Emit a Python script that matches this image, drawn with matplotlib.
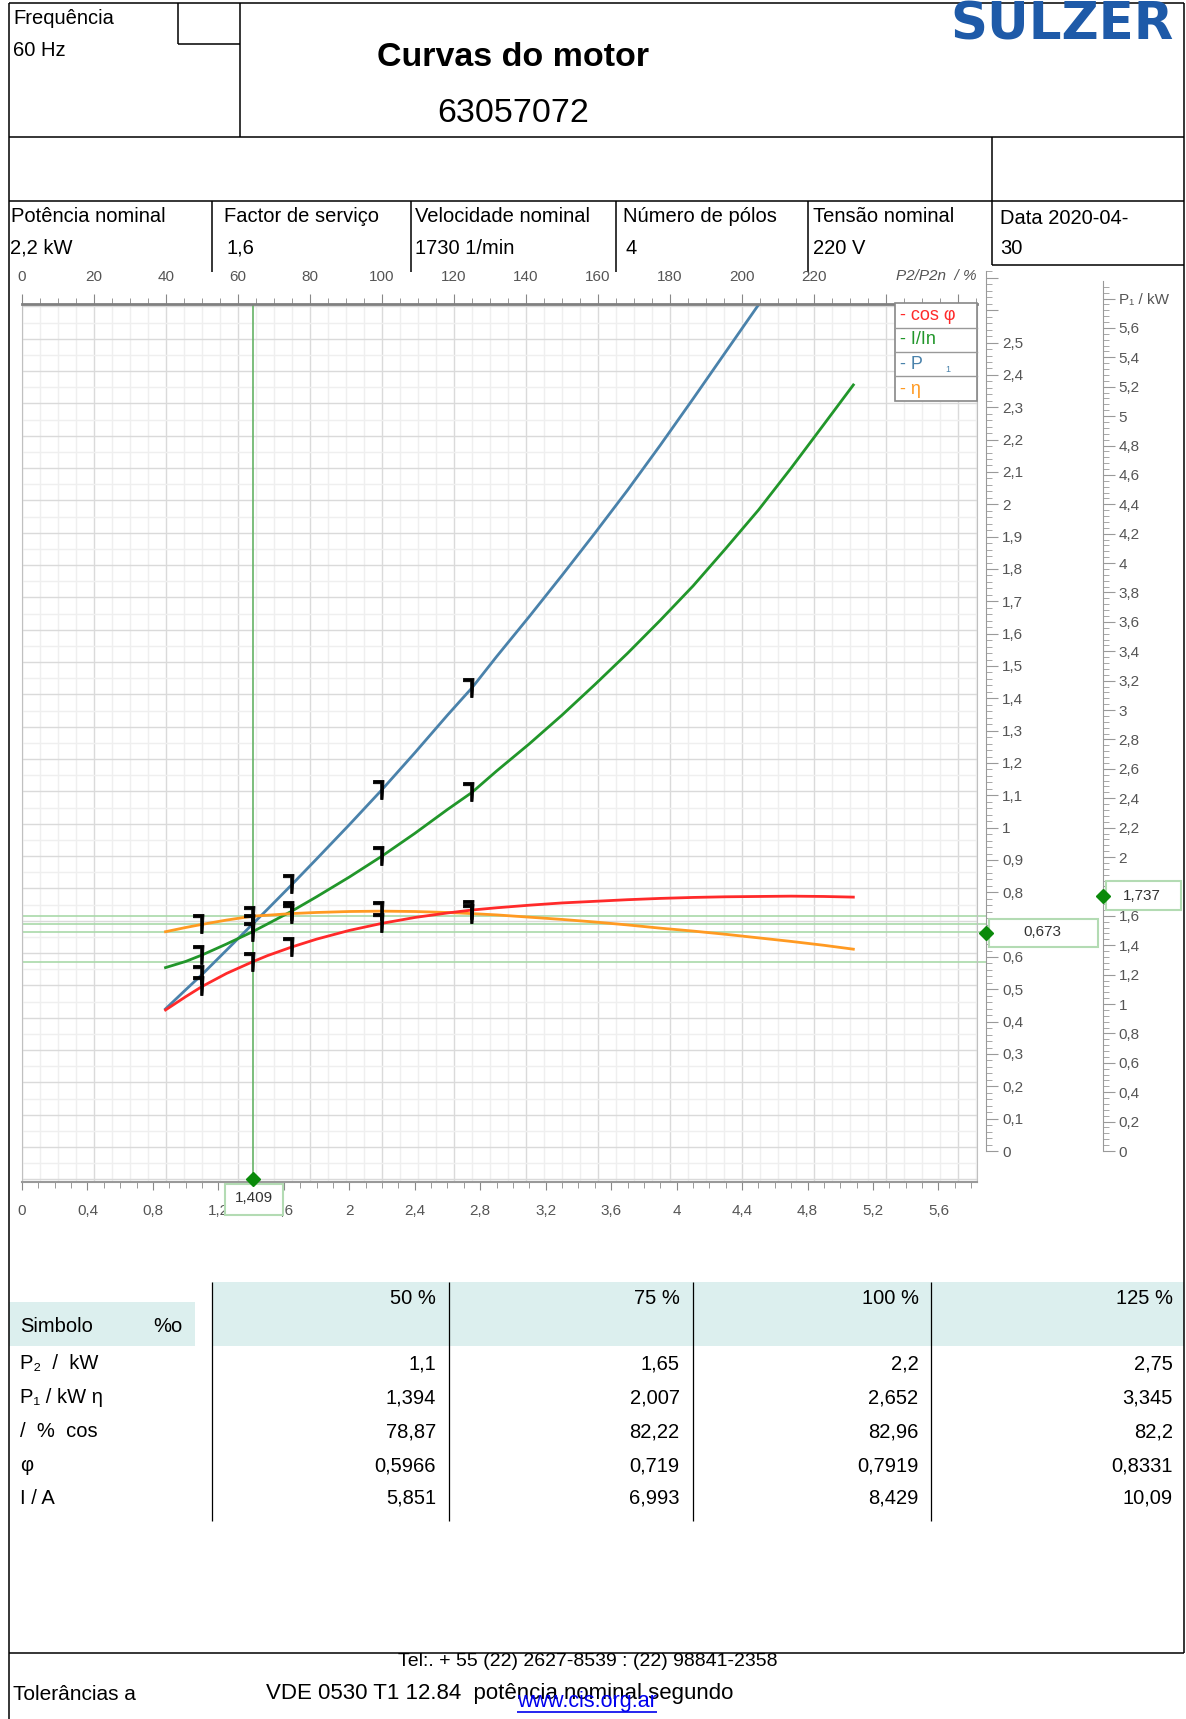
import matplotlib
matplotlib.use("Agg")
import matplotlib.pyplot as plt
import numpy as np
from matplotlib.path import Path
from matplotlib.patches import Rectangle
from matplotlib.ticker import MultipleLocator, FuncFormatter

plt.rcParams['font.family'] = ['Liberation Sans', 'DejaVu Sans']

W, H = 1186, 1719
P2N = 2.2   # rated power, kW
PT2PX = 100 / 72.0

# ---- header data
info_labels = ["Potência nominal", "Factor de serviço", "Velocidade nominal",
               "Número de pólos", "Tensão nominal"]
info_values = ["2,2 kW", "1,6", "1730 1/min", "4", "220 V"]

# ---- table data
load_cols = ["50 %", "75 %", "100 %", "125 %"]
row_names = ["P₂  /  kW", "P₁ / kW η", "/  %  cos", "φ", "I / A"]
tab_p2 = [1.1, 1.65, 2.2, 2.75]
tab_p1 = [1.394, 2.007, 2.652, 3.345]
tab_eta = [78.87, 82.22, 82.96, 82.2]
tab_cos = [0.5966, 0.719, 0.7919, 0.8331]
tab_i = [5.851, 6.993, 8.429, 10.09]

# ---- curves, x = P2 / kW
p1_x = [0.877, 1.0, 1.1, 1.25, 1.409, 1.5, 1.65, 1.8, 2.0, 2.2, 2.4, 2.6, 2.75,
        2.9, 3.1, 3.3, 3.5, 3.7, 3.9, 4.1, 4.3, 4.55]
p1_y = [1.16, 1.29, 1.394, 1.560, 1.737, 1.838, 2.007, 2.180, 2.413, 2.652, 2.902,
        3.159, 3.345, 3.557, 3.83, 4.11, 4.396, 4.689, 4.995, 5.31, 5.63, 6.03]

iin_x = [0.877, 1.0, 1.1, 1.25, 1.409, 1.5, 1.65, 1.8, 2.0, 2.2, 2.4, 2.6, 2.75,
         2.9, 3.1, 3.3, 3.5, 3.7, 3.9, 4.1, 4.3, 4.5, 4.7, 4.9, 5.08]
iin_y = [0.655, 0.674, 0.694, 0.728, 0.766, 0.790, 0.830, 0.874, 0.935, 1.0, 1.070,
         1.144, 1.197, 1.263, 1.347, 1.436, 1.530, 1.627, 1.729, 1.835, 1.951, 2.07,
         2.20, 2.335, 2.457]

cos_x = [0.877, 1.0, 1.1, 1.25, 1.409, 1.5, 1.65, 1.8, 2.0, 2.2, 2.4, 2.6, 2.75,
         2.9, 3.1, 3.3, 3.5, 3.7, 3.9, 4.1, 4.3, 4.5, 4.7, 4.9, 5.08]
cos_y = [0.524, 0.565, 0.5966, 0.637, 0.673, 0.692, 0.719, 0.743, 0.770, 0.7919,
         0.810, 0.824, 0.8331, 0.840, 0.848, 0.855, 0.860, 0.865, 0.869, 0.872,
         0.874, 0.875, 0.876, 0.875, 0.873]

eta_x = [0.877, 1.0, 1.1, 1.25, 1.409, 1.5, 1.65, 1.8, 2.0, 2.2, 2.4, 2.6, 2.75,
         2.9, 3.1, 3.3, 3.5, 3.7, 3.9, 4.1, 4.3, 4.5, 4.7, 4.9, 5.08]
eta_y = [76.6, 77.9, 78.87, 80.2, 81.4, 81.7, 82.22, 82.55, 82.85, 82.96, 82.85,
         82.55, 82.2, 81.8, 81.1, 80.4, 79.6, 78.7, 77.7, 76.8, 75.8, 74.7, 73.6,
         72.4, 71.2]

mark_x = [1.1, 1.409, 1.65, 2.2, 2.75]
op_p2 = 1.409
op_axis1 = 0.673
op_axis2 = 1.737

C_BLUE, C_GREEN, C_RED, C_ORANGE = "#4a82ab", "#21962a", "#ff2a2a", "#ff9a22"
GRAY_TXT = "#555555"

fig = plt.figure(figsize=(W / 100, H / 100), dpi=100)

bg = fig.add_axes([0, 0, 1, 1], zorder=0)
bg.set_xlim(0, W)
bg.set_ylim(H, 0)
bg.axis('off')


def hline(a, y, x0, x1, color='black', lw=1.1):
    a.plot([x0, x1], [y, y], color=color, lw=lw, solid_capstyle='butt')


def vline(a, x, y0, y1, color='black', lw=1.1):
    a.plot([x, x], [y0, y1], color=color, lw=lw, solid_capstyle='butt')


# ---- frame / header
hline(bg, 3.5, 9, 1184)
vline(bg, 9, 3.5, H)
vline(bg, 1184, 3.5, 1653)
hline(bg, 137, 9, 1184)
hline(bg, 200.6, 9, 1184)
vline(bg, 177.6, 3.5, 44)
hline(bg, 44, 177.6, 240)
vline(bg, 240, 3.5, 137)
vline(bg, 992, 137, 265)
hline(bg, 265, 992, 1184)
for x in [211.5, 411, 616, 808]:
    vline(bg, x, 200.6, 272)
hline(bg, 1653, 9, 1184)

bg.text(13, 19, "Frequência", fontsize=14.5, va='center')
bg.text(13, 50, "60 Hz", fontsize=14.5, va='center')
bg.text(513, 57, "Curvas do motor", fontsize=24.5, fontweight='bold', ha='center', va='center')
bg.text(513, 113, "63057072", fontsize=24.5, ha='center', va='center')
bg.text(1174, 39, "SULZER", fontsize=37, fontweight='heavy', family='DejaVu Sans',
        color="#1e5aa8", ha='right', va='baseline')

info_x = [11, 223.6, 415.4, 622.6, 813]
val_x = [10, 226, 415.4, 625, 813]
for lab, val, xl, xv in zip(info_labels, info_values, info_x, val_x):
    bg.text(xl, 216, lab, fontsize=14.5, va='center')
    bg.text(xv, 248, val, fontsize=14.5, va='center')
bg.text(1000, 218, "Data 2020-04-", fontsize=14.5, va='center')
bg.text(1000, 248, "30", fontsize=14.5, va='center')

# ---- main plot
PL, PR, PT, PB = 22, 977, 304, 1182
Y0, PX_UNIT, PX_KW = 1179.4, 323.35, 163.65
xmax = (PR - PL) / PX_KW
ax = fig.add_axes([PL / W, 1 - PB / H, (PR - PL) / W, (PB - PT) / H], zorder=1)
ax.set_xlim(0, xmax)
ax.set_ylim(-(PB - Y0) / PX_UNIT, (Y0 - PT) / PX_UNIT)

for pct in np.arange(0, 266, 5):
    major = pct % 20 == 0
    ax.axvline(pct * P2N / 100, color="#dadada" if major else "#efefef",
               lw=1.0, zorder=0)
for k, v in enumerate(np.arange(0, 2.71, 0.05)):
    ax.axhline(v, color="#dadada" if k % 2 == 0 else "#efefef", lw=1.0, zorder=0)

ax.set_yticks([])
for s in ['left', 'right']:
    ax.spines[s].set_color("#c0c0c0")
ax.spines['bottom'].set_color("#999999")
ax.spines['bottom'].set_linewidth(1.5)
ax.spines['top'].set_visible(False)

comma = FuncFormatter(lambda v, p: f"{round(v, 3):g}".replace('.', ','))
ax.xaxis.set_major_locator(MultipleLocator(0.4))
ax.xaxis.set_minor_locator(MultipleLocator(0.1))
ax.xaxis.set_major_formatter(comma)
ax.tick_params(axis='x', which='major', direction='out', length=8 / PT2PX, color="#888888",
               labelsize=11, labelcolor=GRAY_TXT, pad=14 / PT2PX)
ax.tick_params(axis='x', which='minor', direction='out', length=6 / PT2PX, color="#888888")

# top axis in % of rated power
ax_top = ax.twiny()
ax_top.set_xlim(0, xmax / P2N * 100)
ax_top.set_yticks([])
ax_top.xaxis.set_major_locator(MultipleLocator(20))
ax_top.xaxis.set_minor_locator(MultipleLocator(5))
ax_top.xaxis.set_major_formatter(FuncFormatter(lambda v, p: f"{v:g}" if v <= 220 else ""))
ax_top.tick_params(axis='x', which='major', direction='out', length=10 / PT2PX,
                   color="#888888", labelsize=11, labelcolor=GRAY_TXT, pad=10 / PT2PX)
ax_top.tick_params(axis='x', which='minor', direction='out', length=6 / PT2PX,
                   color="#888888")
for s in ['left', 'right', 'bottom']:
    ax_top.spines[s].set_visible(False)
ax_top.spines['top'].set_color("#808080")
ax_top.spines['top'].set_linewidth(2)
bg.text(976, 276, "P2/P2n  / %", fontsize=11, style='italic', color=GRAY_TXT,
        ha='right', va='center')

# curves
lw = 2.0
ax.plot(p1_x, np.array(p1_y) / P2N, color=C_BLUE, lw=lw, zorder=3)
ax.plot(iin_x, iin_y, color=C_GREEN, lw=lw, zorder=3)
ax.plot(eta_x, np.array(eta_y) / 100, color=C_ORANGE, lw=lw, zorder=3)
ax.plot(cos_x, cos_y, color=C_RED, lw=lw, zorder=3)

# operating point guides
ref_vals = [eta_y[eta_x.index(op_p2)] / 100, p1_y[p1_x.index(op_p2)] / P2N,
            iin_y[iin_x.index(op_p2)], cos_y[cos_x.index(op_p2)]]
ax.hlines(ref_vals, 0, (986 - PL) / PX_KW, colors="#a9d9a9", lw=1.2,
          clip_on=False, zorder=2)
ax.axvline(op_p2, color="#66b366", lw=1.2, zorder=2)

# point markers (thick "7"-shaped glyph)
corner = Path([(-9, 10), (1.5, 10), (0.5, -9), (-1.8, -9), (-1.8, 6.8), (-9, 6.8), (-9, 10)],
              [Path.MOVETO] + [Path.LINETO] * 5 + [Path.CLOSEPOLY])
for xs, ys, scale in [(p1_x, p1_y, P2N), (iin_x, iin_y, 1), (eta_x, eta_y, 100),
                      (cos_x, cos_y, 1)]:
    my = [ys[xs.index(m)] / scale for m in mark_x]
    ax.plot(mark_x, my, ls='none', marker=corner, ms=20 / PT2PX, mew=0.6,
            mfc='black', mec='black', zorder=4)

# ---- right-hand axes
A0 = 1151
ax_r1 = fig.add_axes([986 / W, 1 - A0 / H, 0.05, (A0 - 271) / H], zorder=2)
ax_r1.set_ylim(0, (A0 - 271) / PX_UNIT)
ax_r2 = fig.add_axes([1102.7 / W, 1 - A0 / H, 0.05, (A0 - 281) / H], zorder=2)
ax_r2.set_ylim(0, (A0 - 281) / (PX_UNIT / P2N))

for a in [ax_r1, ax_r2]:
    a.patch.set_visible(False)
    a.xaxis.set_visible(False)
    for s in ['top', 'bottom', 'left']:
        a.spines[s].set_visible(False)
    a.spines['right'].set_position(('axes', 0))
    a.spines['right'].set_color("#999999")
    a.yaxis.tick_right()
    a.tick_params(axis='y', which='major', direction='out', length=12 / PT2PX,
                  color="#999999", labelsize=11, labelcolor=GRAY_TXT, pad=4 / PT2PX)
    a.tick_params(axis='y', which='minor', direction='out', length=6 / PT2PX,
                  color="#999999")

ax_r1.yaxis.set_major_locator(MultipleLocator(0.1))
ax_r1.yaxis.set_minor_locator(MultipleLocator(0.02))
ax_r1.yaxis.set_major_formatter(FuncFormatter(
    lambda v, p: f"{round(v, 2):g}".replace('.', ',') if v < 2.55 else ""))
ax_r2.yaxis.set_major_locator(MultipleLocator(0.2))
ax_r2.yaxis.set_minor_locator(MultipleLocator(0.04))
ax_r2.yaxis.set_major_formatter(FuncFormatter(
    lambda v, p: "P₁ / kW" if abs(v - 5.8) < 1e-6 else f"{round(v, 2):g}".replace('.', ',')))

# ---- foreground: legend, value boxes
fg = fig.add_axes([0, 0, 1, 1], zorder=5)
fg.set_xlim(0, W)
fg.set_ylim(H, 0)
fg.axis('off')
fg.patch.set_visible(False)


def to_fg(a, x, y):
    return fg.transData.inverted().transform(a.transData.transform((x, y)))


box_edge = "#b3dbb3"
dx, dy = to_fg(ax, op_p2, 0)
fg.add_patch(Rectangle((dx - 28, 1184), 58, 31, fc='white', ec=box_edge, lw=1.5, zorder=2))
fg.text(dx + 1, 1198, f"{op_p2:g}".replace('.', ','), fontsize=11, color="#333333",
        ha='center', va='center', zorder=3)
fg.plot(dx, dy, marker='D', ms=7.5, color="#0a8a0a", zorder=4)

ax1x, ax1y = to_fg(ax_r1, 0, op_axis1)
fg.add_patch(Rectangle((ax1x + 3, ax1y - 14), 1098 - ax1x - 3, 28, fc='white',
                       ec=box_edge, lw=1.5, zorder=2))
fg.text((ax1x + 1098) / 2, ax1y - 1, f"{op_axis1:g}".replace('.', ','), fontsize=11,
        color="#333333", ha='center', va='center', zorder=3)
fg.plot(ax1x, ax1y, marker='D', ms=7.5, color="#0a8a0a", zorder=4)

ax2x, ax2y = to_fg(ax_r2, 0, op_axis2)
fg.add_patch(Rectangle((ax2x + 3, ax2y - 14.5), 1181 - ax2x - 3, 29, fc='white',
                       ec=box_edge, lw=1.5, zorder=2))
fg.text((ax2x + 1181) / 2, ax2y, f"{op_axis2:g}".replace('.', ','), fontsize=11,
        color="#333333", ha='center', va='center', zorder=3)
fg.plot(ax2x, ax2y, marker='D', ms=7.5, color="#0a8a0a", zorder=4)

# legend
fg.add_patch(Rectangle((895, 303), 82, 98, fc='white', ec="#888888", lw=1.2, zorder=2))
for y in [328, 352.5, 376.5]:
    fg.plot([895, 977], [y, y], color="#999999", lw=1.0, zorder=3)
leg = [("- cos φ", C_RED), ("- I/In", C_GREEN), ("- P", C_BLUE), ("- η", C_ORANGE)]
for k, (t, c) in enumerate(leg):
    fg.text(900, 315.5 + 24.5 * k, t, fontsize=13, color=c, va='center', zorder=4)
fg.text(945, 369, "1", fontsize=6.5, color=C_BLUE, va='center', zorder=4)

# ---- lower table
bg.add_patch(Rectangle((211.5, 1282), 1184 - 211.5, 64, fc="#dcefee", ec='none'))
bg.add_patch(Rectangle((9, 1302), 186, 44, fc="#dcefee", ec='none'))
for x in [211.5, 449.4, 692.7, 930.6]:
    vline(bg, x, 1282, 1521, lw=0.9)

col_right = [436, 679.6, 918.5, 1173]
for t, x in zip(load_cols, col_right):
    bg.text(x, 1298, t, fontsize=14.5, ha='right', va='center')
bg.text(20, 1326, "Simbolo", fontsize=14.5, va='center')
bg.text(153, 1326, "%o", fontsize=14.5, va='center')

row_y = [1363.5, 1397.5, 1431.5, 1465.5, 1498.4]
rows = [tab_p2, tab_p1, tab_eta, tab_cos, tab_i]
for name, vals, y in zip(row_names, rows, row_y):
    bg.text(20, y, name, fontsize=14.5, va='center')
    for v, x in zip(vals, col_right):
        bg.text(x, y, f"{v:g}".replace('.', ','), fontsize=14.5, ha='right', va='center')

# ---- footer
bg.text(588, 1662, "Tel:. + 55 (22) 2627-8539 : (22) 98841-2358", fontsize=14,
        ha='center', va='center')
bg.text(13, 1694, "Tolerâncias a", fontsize=15, va='center')
bg.text(266, 1694, "VDE 0530 T1 12.84  potência nominal segundo", fontsize=16,
        va='center')
bg.text(517, 1701, "www.cis.org.ar", fontsize=15.5, color="#0000ee", va='center')
hline(bg, 1712, 517, 657, color="#0000ee", lw=1.2)

fig.savefig("out.png", dpi=100)
